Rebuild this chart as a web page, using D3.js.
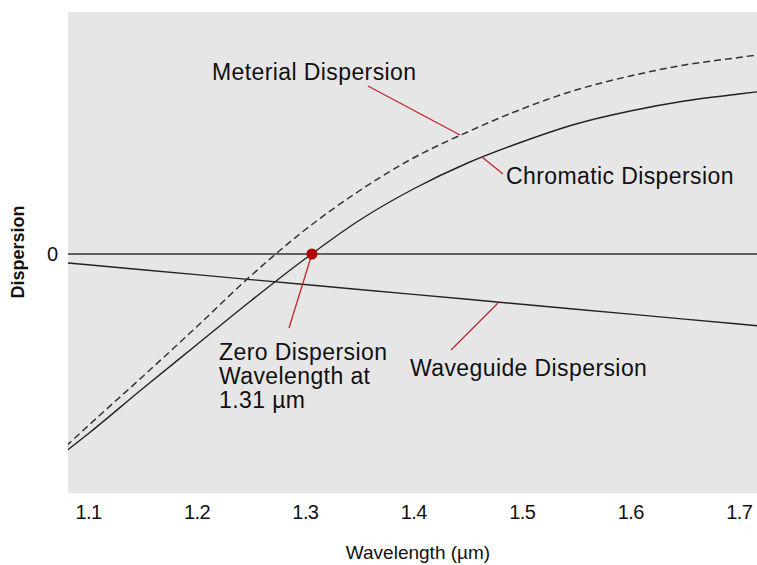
<!DOCTYPE html>
<html>
<head>
<meta charset="utf-8">
<script src="https://cdn.jsdelivr.net/npm/d3@7"></script>
<style>
  body { margin: 0; background: #fff; }
  svg { display: block; font-family: "Liberation Sans", Arial, Helvetica, sans-serif; }
</style>
</head>
<body>
<svg id="chart" width="757" height="565"></svg>
<script>
// wavelength samples (um)
const wavelengths = [1.08, 1.1, 1.15, 1.2, 1.25, 1.3, 1.35, 1.4, 1.45, 1.5, 1.55, 1.6, 1.65, 1.7, 1.72];
// dispersion (arbitrary units, 0 = zero line)
const chromatic = [-19.7, -18.0, -13.5, -9.1, -4.7, -0.5, 3.35, 6.5, 9.1, 11.2, 13.0, 14.3, 15.3, 16.0, 16.25];
const material = [-19.2, -17.2, -12.3, -7.3, -2.2, 2.4, 6.3, 9.6, 12.2, 14.5, 16.4, 17.8, 18.9, 19.65, 19.95];
const waveguide = [-0.88, -1.07, -1.57, -2.06, -2.56, -3.05, -3.55, -4.04, -4.53, -5.03, -5.52, -6.01, -6.51, -7.0, -7.2];

const xTicks = [1.1, 1.2, 1.3, 1.4, 1.5, 1.6, 1.7];
const yTicks = [0];
const zeroWavelength = 1.3065;

const svg = d3.select("#chart");
const plot = { left: 68, right: 757, top: 12, bottom: 493 };

const x = d3.scaleLinear().domain([1.0816, 1.7169]).range([plot.left, plot.right]);
const y = d3.scaleLinear().domain([-23.9, 24.2]).range([plot.bottom, plot.top]);

svg.append("rect")
  .attr("x", plot.left).attr("y", plot.top)
  .attr("width", plot.right - plot.left).attr("height", plot.bottom - plot.top)
  .attr("fill", "#e6e6e6");

svg.append("clipPath").attr("id", "clip")
  .append("rect")
  .attr("x", plot.left).attr("y", plot.top)
  .attr("width", plot.right - plot.left).attr("height", plot.bottom - plot.top);

// axes without domain line / tick marks
const xAxis = svg.append("g")
  .attr("transform", `translate(0,${plot.bottom})`)
  .call(d3.axisBottom(x).tickValues(xTicks).tickSize(0).tickPadding(12).tickFormat(d3.format(".1f")));
xAxis.select(".domain").remove();
xAxis.selectAll("text").attr("font-size", 20).attr("fill", "#111")
  .attr("font-family", "Liberation Sans, Arial, sans-serif").attr("letter-spacing", -0.6);

const yAxis = svg.append("g")
  .attr("transform", `translate(${plot.left},0)`)
  .call(d3.axisLeft(y).tickValues(yTicks).tickSize(0).tickPadding(10));
yAxis.select(".domain").remove();
yAxis.selectAll("text").attr("font-size", 20).attr("fill", "#111")
  .attr("font-family", "Liberation Sans, Arial, sans-serif");

const g = svg.append("g").attr("clip-path", "url(#clip)");

// zero line
g.append("line")
  .attr("x1", plot.left).attr("x2", plot.right)
  .attr("y1", y(0)).attr("y2", y(0))
  .attr("stroke", "#333").attr("stroke-width", 1.3);

const line = d3.line()
  .x((d, i) => x(wavelengths[i]))
  .y(d => y(d))
  .curve(d3.curveMonotoneX);

g.append("path").datum(waveguide)
  .attr("d", d3.line().x((d, i) => x(wavelengths[i])).y(d => y(d)))
  .attr("fill", "none").attr("stroke", "#222").attr("stroke-width", 1.4);

g.append("path").datum(material)
  .attr("d", line)
  .attr("fill", "none").attr("stroke", "#333").attr("stroke-width", 1.5)
  .attr("stroke-dasharray", "7,4");

g.append("path").datum(chromatic)
  .attr("d", line)
  .attr("fill", "none").attr("stroke", "#222").attr("stroke-width", 1.4);

// annotation leaders
const red = "#c1272d";
const leaders = [
  [368, 86, 460, 135],
  [482, 157, 503, 174],
  [498, 303, 451, 350],
  [x(zeroWavelength), y(0), 289, 328]
];
svg.selectAll(".leader").data(leaders).join("line")
  .attr("class", "leader")
  .attr("x1", d => d[0]).attr("y1", d => d[1])
  .attr("x2", d => d[2]).attr("y2", d => d[3])
  .attr("stroke", red).attr("stroke-width", 1.3);

svg.append("circle")
  .attr("cx", x(zeroWavelength)).attr("cy", y(0)).attr("r", 5.5)
  .attr("fill", "#b00000");

// labels
const labels = [
  { text: "Meterial Dispersion", x: 212, y: 80 },
  { text: "Chromatic Dispersion", x: 506, y: 184 },
  { text: "Waveguide Dispersion", x: 410, y: 376 },
  { text: "Zero Dispersion", x: 219, y: 360 },
  { text: "Wavelength at", x: 219, y: 384 },
  { text: "1.31 \u00b5m", x: 219, y: 408 }
];
svg.selectAll(".lab").data(labels).join("text")
  .attr("class", "lab")
  .attr("x", d => d.x).attr("y", d => d.y)
  .attr("font-size", 23).attr("letter-spacing", 0.4).attr("fill", "#111")
  .text(d => d.text);

svg.append("text")
  .attr("x", 418).attr("y", 559)
  .attr("text-anchor", "middle")
  .attr("font-size", 19).attr("fill", "#111")
  .text("Wavelength (\u00b5m)");

svg.append("text")
  .attr("transform", "translate(24,252) rotate(-90)")
  .attr("text-anchor", "middle")
  .attr("font-size", 18).attr("font-weight", "bold").attr("fill", "#111")
  .text("Dispersion");
</script>
</body>
</html>
